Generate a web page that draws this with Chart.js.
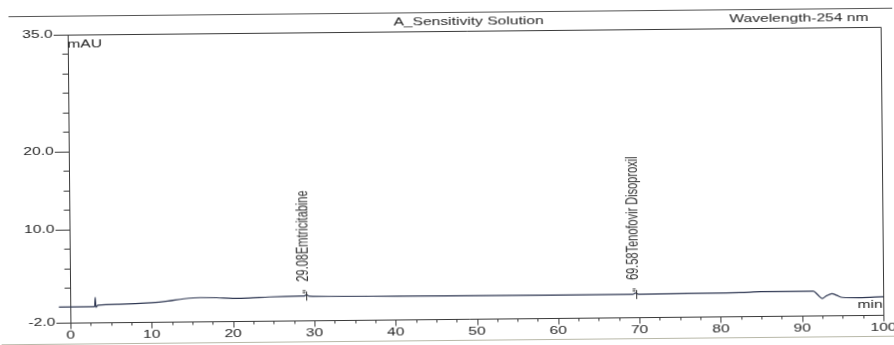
<!DOCTYPE html>
<html><head><meta charset="utf-8">
<script src="https://cdn.jsdelivr.net/npm/chart.js@4.4.1/dist/chart.umd.min.js"></script>
<style>
html,body{margin:0;padding:0;background:#fff;overflow:hidden}
canvas{display:block;transform:rotate(-0.55deg);transform-origin:50% 50%}
</style>
</head><body>
<canvas id="c" width="894" height="345"></canvas>
<script>
// ---- data ----
const retentionTimes = [-1.4, 0, 3.0, 3.08, 3.16, 3.4, 6, 10, 12, 14, 16, 18, 20, 22, 24.5, 28.3, 28.8, 29.08, 29.4, 32, 40, 46, 58, 69.2, 69.58, 69.9, 76, 82.4, 85, 91.4, 92.0, 92.5, 93.0, 93.7, 94.3, 95.0, 97, 100];
const absorbance     = [0.02, 0.02, 0.0, 1.2, -0.05, 0.2, 0.3, 0.45, 0.64, 0.92, 1.05, 1.02, 0.9, 0.93, 1.05, 1.13, 1.14, 1.3, 1.1, 1.05, 1.0, 0.97, 0.93, 0.94, 1.1, 0.95, 1.0, 1.04, 1.12, 1.14, 0.6, 0.18, 0.5, 0.79, 0.55, 0.28, 0.24, 0.33];
const peakTimes   = [29.08, 69.58];
const peakHeights = [1.3, 1.1];
const peakNames   = ['29.08Emtricitabine', '69.58Tenofovir Disoproxil'];
const xTickValues = [0, 10, 20, 30, 40, 50, 60, 70, 80, 90, 100];
const xTickLabels = ['0', '10', '20', '30', '40', '50', '60', '70', '80', '90', '100'];
const yTickValues = [35, 20, 10, -2];
const yTickLabels = ['35.0', '20.0', '10.0', '-2.0'];
const xMinorTicks = Array.from({length: 41}, (_, i) => i * 2.5);
const yMinorTicks = Array.from({length: 15}, (_, i) => i * 2.5);
const chartTitle = 'A_Sensitivity Solution';
const wavelengthText = 'Wavelength-254 nm';
const yUnit = 'mAU';
const xUnit = 'min';

const FONT = '"Liberation Sans", Arial, sans-serif';
const SX = 1.42;
function stretchText(ctx, txt, x, y, align, size, rot) {
  ctx.save();
  ctx.translate(x, y);
  ctx.scale(SX, 1);
  if (rot) ctx.rotate(rot);
  ctx.font = size + 'px ' + FONT;
  ctx.textAlign = align;
  ctx.textBaseline = 'middle';
  ctx.fillText(txt, 0, 0);
  ctx.restore();
}
function line(ctx, x1, y1, x2, y2) {
  ctx.beginPath(); ctx.moveTo(x1, y1); ctx.lineTo(x2, y2); ctx.stroke();
}

const decor = {
  id: 'decor',
  beforeDatasetsDraw(chart) {
    const {ctx, chartArea: a, scales: {x, y}} = chart;
    ctx.save();
    ctx.strokeStyle = '#3a3a3a';
    ctx.lineWidth = 1;
    // header rule
    ctx.strokeStyle = '#555';
    line(ctx, 10, 12.5, 894, 12.5);
    // page bottom rule
    ctx.strokeStyle = '#b8b8a8';
    line(ctx, 0, 340.5, 894, 340.5);
    // plot frame
    ctx.strokeStyle = '#3a3a3a';
    const top = Math.round(y.getPixelForValue(35)) + 0.5;
    const bot = Math.round(y.getPixelForValue(-2)) + 0.5;
    const x0 = Math.round(x.getPixelForValue(0)) + 0.5;
    const x100 = Math.round(x.getPixelForValue(100)) + 0.5;
    line(ctx, 55, top, x100, top);
    line(ctx, x100, top, x100, bot);
    line(ctx, 55, bot, x100, bot);
    line(ctx, x0, top, x0, bot);
    // y ticks
    yMinorTicks.forEach(v => { const py = Math.round(y.getPixelForValue(v)) + 0.5; line(ctx, x0 - 6, py, x0, py); });
    yTickValues.forEach(v => { const py = Math.round(y.getPixelForValue(v)) + 0.5; line(ctx, 55, py, x0, py); });
    // x ticks
    xMinorTicks.forEach(v => { const px = Math.round(x.getPixelForValue(v)) + 0.5; line(ctx, px, bot, px, bot + 3); });
    xTickValues.forEach(v => { const px = Math.round(x.getPixelForValue(v)) + 0.5; line(ctx, px, bot, px, bot + 6); });
    // tick labels
    ctx.fillStyle = '#262626';
    yTickValues.forEach((v, i) => stretchText(ctx, yTickLabels[i], 54, y.getPixelForValue(v), 'right', 11));
    xTickValues.forEach((v, i) => stretchText(ctx, xTickLabels[i], x.getPixelForValue(v), bot + 12, 'center', 11));
    // units & titles
    stretchText(ctx, yUnit, x0 - 1, top + 9, 'left', 11);
    stretchText(ctx, xUnit, x100 - 1, bot - 11, 'right', 11);
    stretchText(ctx, chartTitle, 470, 22, 'center', 11);
    stretchText(ctx, wavelengthText, 870, 21.5, 'right', 11);
    ctx.restore();
  },
  afterDatasetsDraw(chart) {
    const {ctx, scales: {x, y}} = chart;
    ctx.save();
    ctx.strokeStyle = '#333';
    ctx.fillStyle = '#333';
    ctx.lineWidth = 1;
    peakTimes.forEach((t, i) => {
      const px = Math.round(x.getPixelForValue(t)) + 0.5;
      const py = y.getPixelForValue(peakHeights[i]);
      line(ctx, px, py - 3, px, py + 6);
      line(ctx, px - 4, py - 4, px - 1, py - 4);
      line(ctx, px - 4, py - 2, px - 1, py - 2);
      stretchText(ctx, peakNames[i], px - 3, py - 13, 'left', 11, -Math.PI / 2);
    });
    ctx.restore();
  }
};

new Chart(document.getElementById('c'), {
  type: 'line',
  data: {
    datasets: [{
      data: retentionTimes.map((t, i) => ({x: t, y: absorbance[i]})),
      borderColor: '#2e3752',
      borderWidth: 1.2,
      pointRadius: 0,
      tension: 0,
      cubicInterpolationMode: 'monotone',
      clip: false,
      fill: false
    }]
  },
  options: {
    responsive: false,
    devicePixelRatio: 1,
    animation: false,
    layout: {padding: {left: 69, right: 12, top: 31, bottom: 26}},
    plugins: {legend: {display: false}, tooltip: {enabled: false}},
    scales: {
      x: {type: 'linear', min: 0, max: 100, display: false},
      y: {type: 'linear', min: -2, max: 35, display: false}
    }
  },
  plugins: [decor]
});
</script>
</body></html>
